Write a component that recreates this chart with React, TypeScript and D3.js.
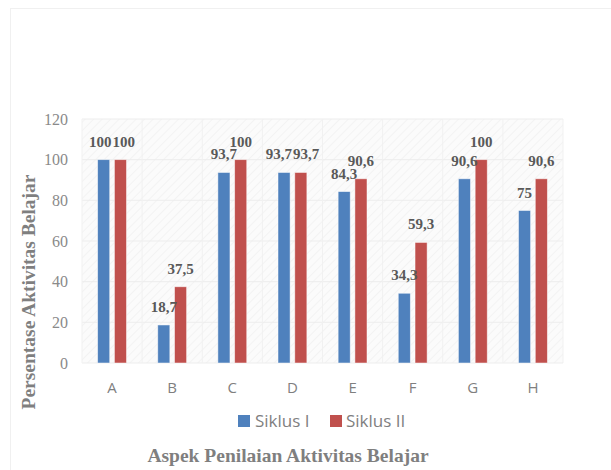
import React from "react";
import * as d3 from "d3";

const categories = ["A", "B", "C", "D", "E", "F", "G", "H"];
const seriesNames = ["Siklus I", "Siklus II"];
const siklus1 = [100, 18.7, 93.7, 93.7, 84.3, 34.3, 90.6, 75];
const siklus2 = [100, 37.5, 100, 93.7, 90.6, 59.3, 100, 90.6];
const yTicks = [0, 20, 40, 60, 80, 100, 120];
const colors = ["#4F81BD", "#C0504D"];

const W = 611;
const H = 470;
const plot = { left: 82, right: 563, top: 119, bottom: 363 };
const LABEL_SIZE = 15;

export default function App() {
  const x0 = d3
    .scaleBand<string>()
    .domain(categories)
    .range([plot.left, plot.right])
    .paddingInner(0.52)
    .paddingOuter(0.26);
  const x1 = d3
    .scaleBand<number>()
    .domain([0, 1])
    .range([0, x0.bandwidth()])
    .paddingInner(0.28);
  const y = d3.scaleLinear().domain([0, 120]).range([plot.bottom, plot.top]);
  const series = [siklus1, siklus2];
  const fmt = (v: number) => String(v).replace(".", ",");
  const estW = (s: string) =>
    s.split("").reduce((a, ch) => a + (ch === "," ? 0.25 : 0.5), 0) * LABEL_SIZE;
  const step = x0.step();
  const bounds = d3.range(categories.length + 1).map((i) => plot.left + i * step);

  // label positions with simple overlap avoidance between the pair in a category
  const labels = categories.map((c, i) => {
    const cx = [0, 1].map((si) => (x0(c) as number) + (x1(si) as number) + x1.bandwidth() / 2);
    const txt = [0, 1].map((si) => fmt(series[si][i]));
    const ly = [0, 1].map((si) => y(series[si][i]) - 13);
    const wds = txt.map(estW);
    const need = (wds[0] + wds[1]) / 2 + 1;
    const dist = cx[1] - cx[0];
    const vOverlap = Math.abs(ly[0] - ly[1]) < 11;
    if (vOverlap && need > dist) {
      const push = (need - dist) / 2;
      cx[0] -= push;
      cx[1] += push;
    }
    return { cx, txt, ly };
  });

  const serif = "'Liberation Serif', 'Times New Roman', serif";
  const sans = "'Open Sans', 'Noto Sans', sans-serif";

  const legendItems = [
    { sx: 238, tx: 255 },
    { sx: 330, tx: 346 },
  ];

  return (
    <svg
      width={W}
      height={H}
      style={{ position: "absolute", left: 0, top: 0, background: "#fff" }}
    >
      <defs>
        <pattern id="hatch" width="6" height="6" patternUnits="userSpaceOnUse" patternTransform="rotate(45)">
          <rect width="6" height="6" fill="#fbfbfb" />
          <line x1="0" y1="0" x2="0" y2="6" stroke="#f3f3f3" strokeWidth="2" />
        </pattern>
      </defs>
      <rect x={10.5} y={8.5} width={700} height={600} fill="none" stroke="#f0f0f0" />
      <rect
        x={plot.left}
        y={plot.top}
        width={plot.right - plot.left}
        height={plot.bottom - plot.top}
        fill="url(#hatch)"
      />
      {yTicks.map((t) => (
        <line key={"g" + t} x1={plot.left} x2={plot.right} y1={y(t)} y2={y(t)} stroke="#ededed" />
      ))}
      {bounds.map((bx, i) => (
        <line key={"v" + i} x1={bx} x2={bx} y1={plot.top} y2={plot.bottom} stroke="#f1f1f1" />
      ))}
      {yTicks.map((t) => (
        <text
          key={"t" + t}
          x={68}
          y={y(t)}
          dy="0.35em"
          textAnchor="end"
          fontFamily={serif}
          fontSize={16}
          fill="#8a8a8a"
        >
          {t}
        </text>
      ))}
      {categories.map((c) => (
        <text
          key={"c" + c}
          x={(x0(c) as number) + x0.bandwidth() / 2}
          y={388}
          dy="0.35em"
          textAnchor="middle"
          fontFamily={sans}
          fontSize={15}
          fill="#7f7f7f"
        >
          {c}
        </text>
      ))}
      {series.map((vals, si) =>
        vals.map((v, i) => {
          const bx = (x0(categories[i]) as number) + (x1(si) as number);
          return (
            <rect
              key={"b" + si + "-" + i}
              x={bx}
              y={y(v)}
              width={x1.bandwidth()}
              height={y(0) - y(v)}
              fill={colors[si]}
              stroke="#ffffff"
              strokeOpacity={0.6}
              strokeWidth={0.8}
            />
          );
        })
      )}
      {labels.map((l, i) =>
        [0, 1].map((si) => (
          <text
            key={"l" + si + "-" + i}
            x={l.cx[si]}
            y={l.ly[si]}
            textAnchor="middle"
            fontFamily={serif}
            fontWeight="bold"
            fontSize={LABEL_SIZE}
            fill="#595959"
          >
            {l.txt[si]}
          </text>
        ))
      )}
      {seriesNames.map((n, si) => (
        <g key={"lg" + si}>
          <rect x={legendItems[si].sx} y={415} width={12} height={12} fill={colors[si]} />
          <text
            x={legendItems[si].tx}
            y={421}
            dy="0.35em"
            fontFamily={sans}
            fontSize={17}
            fill="#7f7f7f"
          >
            {n}
          </text>
        </g>
      ))}
      <text
        x={288}
        y={462}
        textAnchor="middle"
        fontFamily={serif}
        fontWeight="bold"
        fontSize={19.5}
        fill="#7f7f7f"
      >
        Aspek Penilaian Aktivitas Belajar
      </text>
      <text
        transform="translate(35,292) rotate(-90)"
        textAnchor="middle"
        fontFamily={serif}
        fontWeight="bold"
        fontSize={19.5}
        fill="#7f7f7f"
      >
        Persentase Aktivitas Belajar
      </text>
    </svg>
  );
}
